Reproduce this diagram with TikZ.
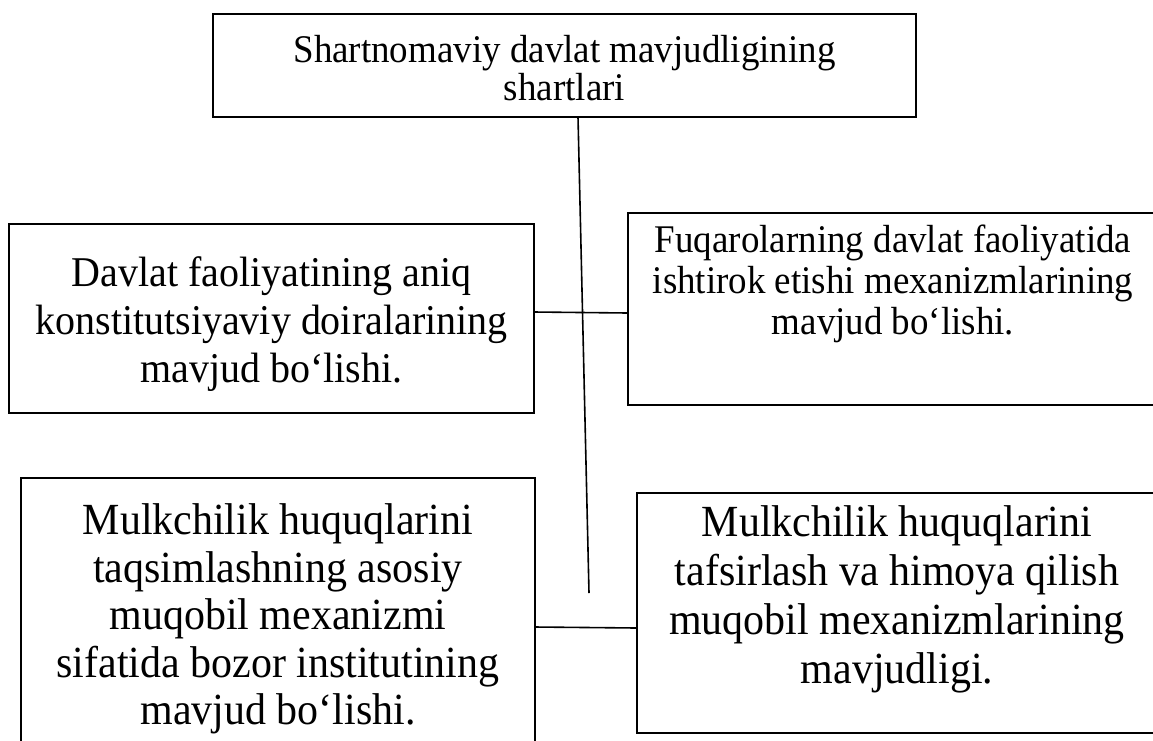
\documentclass[tikz,border=0pt]{standalone}
\usepackage{fontspec}
\setmainfont{Liberation Serif}
\newfontfamily\tallfont[FakeStretch=0.943]{Liberation Serif}
\begin{document}
\lineskiplimit=-50pt
\begin{tikzpicture}[x=1pt,y=-1pt,
  box/.style={draw, line width=1.6pt, rectangle, inner sep=0pt, outer sep=0pt, anchor=north west},
  txt/.style={align=center, inner sep=0pt, anchor=north},
  wire/.style={line width=1.6pt}]
\useasboundingbox (0,0) rectangle (1153,740);
% boxes
\node[box, minimum width=703pt, minimum height=103pt] (top) at (213,14) {};
\node[box, minimum width=525pt, minimum height=189pt] (ul) at (9,224) {};
\node[box, minimum width=530pt, minimum height=192pt] (ur) at (628,213) {};
\node[box, minimum width=514pt, minimum height=282pt] (bl) at (21,478) {};
\node[box, minimum width=521pt, minimum height=240pt] (br) at (637,493) {};
% texts
\node[txt, font=\tallfont\fontsize{39.2}{38.5}\selectfont] (ttop) at (564.5,34.7) {Shartnomaviy davlat mavjudligining\\shartlari};
\node[txt, font=\tallfont\fontsize{42.4}{48}\selectfont] (tul) at (271.5,256) {Davlat faoliyatining aniq\\konstitutsiyaviy doiralarining\\mavjud bo‘lishi.};
\node[txt, font=\tallfont\fontsize{39.2}{41}\selectfont] (tur) at (893,224.2) {Fuqarolarning davlat faoliyatida\\ishtirok etishi mexanizmlarining\\mavjud bo‘lishi.};
\node[txt, font=\tallfont\fontsize{44.5}{47.5}\selectfont] (tbl) at (278,503.6) {Mulkchilik huquqlarini\\taqsimlashning asosiy\\muqobil mexanizmi\\sifatida bozor institutining\\mavjud bo‘lishi.};
\node[txt, font=\tallfont\fontsize{44.5}{49}\selectfont] (tbr) at (897,505.6) {Mulkchilik huquqlarini\\tafsirlash va himoya qilish\\muqobil mexanizmlarining\\mavjudligi.};
% connectors
\coordinate (vend) at (589,593);
\draw[wire] ([xshift=13.5pt]top.south) -- (vend);
\draw[wire] ([yshift=6.5pt]ul.east) -- ([yshift=-4pt]ur.west);
\draw[wire] ([yshift=-8pt]bl.east) -- ([yshift=-15pt]br.west);
\end{tikzpicture}
\end{document}
